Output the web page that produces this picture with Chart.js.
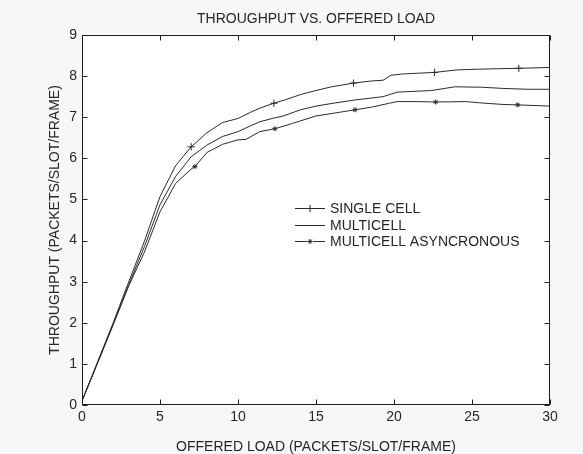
<!DOCTYPE html>
<html><head><meta charset="utf-8">
<script src="https://cdn.jsdelivr.net/npm/chart.js@4.4.1/dist/chart.umd.min.js"></script>
<style>html,body{margin:0;padding:0;background:#f7f7f7;}</style>
</head><body>
<canvas id="c" width="583" height="454"></canvas>
<script>
const chartTitle = 'THROUGHPUT VS. OFFERED LOAD';
const seriesNames = ['SINGLE CELL', 'MULTICELL', 'MULTICELL ASYNCRONOUS'];
const xTicks = [0, 5, 10, 15, 20, 25, 30];
const yTicks = [0, 1, 2, 3, 4, 5, 6, 7, 8, 9];

const singleX = [0, 1, 2, 3, 4, 5, 6, 7, 8, 9, 10, 10.8, 11.4, 12.3, 13, 14, 15, 16, 17.4, 18.5, 19.3, 19.8, 20.5, 21.5, 22.6, 24, 25.5, 28, 30];
const singleY = [0.1, 1.05, 2.0, 3.0, 3.98, 5.07, 5.82, 6.28, 6.62, 6.87, 6.97, 7.12, 7.22, 7.34, 7.42, 7.55, 7.65, 7.74, 7.83, 7.88, 7.9, 8.02, 8.05, 8.07, 8.09, 8.15, 8.17, 8.19, 8.21];
const singleMarkX = [7, 12.3, 17.4, 22.6, 28];

const multiX = [0, 1, 2, 3, 4, 5, 6, 7, 8, 9, 10, 10.8, 11.4, 12.3, 12.9, 14, 15, 16.1, 17.5, 19.3, 20.2, 22.4, 23.9, 25.6, 27, 28.6, 30];
const multiY = [0.1, 1.03, 1.97, 2.93, 3.85, 4.87, 5.56, 6.04, 6.32, 6.53, 6.65, 6.79, 6.89, 6.98, 7.03, 7.18, 7.27, 7.34, 7.42, 7.5, 7.61, 7.65, 7.74, 7.73, 7.7, 7.68, 7.68];

const asyncX = [0, 1, 2, 3, 4, 5, 6, 7, 7.24, 8, 9, 10, 10.5, 11.4, 12.37, 13.5, 15, 16.5, 17.5, 18.5, 19.7, 20.2, 21.5, 22.67, 24.6, 25.5, 27, 27.93, 30];
const asyncY = [0.1, 1.02, 1.95, 2.9, 3.72, 4.7, 5.39, 5.74, 5.8, 6.14, 6.34, 6.45, 6.46, 6.65, 6.72, 6.85, 7.03, 7.12, 7.18, 7.24, 7.34, 7.38, 7.38, 7.37, 7.38, 7.35, 7.31, 7.3, 7.27];
const asyncMarkX = [7.24, 12.37, 17.5, 22.67, 27.93];

const FONT = "'Liberation Sans', Arial, sans-serif";
const TXT = '#262626';
const LINE = '#2b2b2b';

function pts(xs, ys) { return xs.map((x, i) => ({x: x, y: ys[i]})); }
function markRadius(marks, r) { return ctx => (ctx.raw && marks.includes(ctx.raw.x)) ? r : 0; }

const styles = [
  {pointStyle: 'cross', r: 3.6},
  {pointStyle: false, r: 0},
  {pointStyle: 'star', r: 2.5}
];

const frame = {
  id: 'frame',
  beforeDraw(chart) {
    const {ctx, chartArea: a} = chart;
    ctx.save();
    ctx.fillStyle = '#f7f7f7';
    ctx.fillRect(0, 0, chart.width, chart.height);
    ctx.fillStyle = '#ffffff';
    ctx.fillRect(a.left, a.top, a.right - a.left, a.bottom - a.top);
    ctx.restore();
  },
  afterDraw(chart) {
    const {ctx, chartArea: a, scales} = chart;
    ctx.save();
    // title centred over the plot area
    ctx.font = '14px ' + FONT;
    ctx.fillStyle = TXT;
    ctx.textAlign = 'center';
    ctx.textBaseline = 'middle';
    ctx.fillText(chartTitle, (a.left + a.right) / 2, 19.5);

    ctx.strokeStyle = '#1e1e1e';
    ctx.lineWidth = 1;
    const L = Math.round(a.left) + 0.5, R = Math.round(a.right) - 0.5;
    const T = Math.round(a.top) + 0.5, B = Math.round(a.bottom) - 0.5;
    ctx.strokeRect(L, T, R - L, B - T);
    ctx.beginPath();
    scales.x.ticks.forEach(t => {
      const px = Math.round(scales.x.getPixelForValue(t.value)) + 0.5;
      ctx.moveTo(px, B); ctx.lineTo(px, B - 5);
      ctx.moveTo(px, T); ctx.lineTo(px, T + 5);
    });
    scales.y.ticks.forEach(t => {
      const py = Math.round(scales.y.getPixelForValue(t.value)) + 0.5;
      ctx.moveTo(L, py); ctx.lineTo(L + 5, py);
      ctx.moveTo(R, py); ctx.lineTo(R - 5, py);
    });
    ctx.stroke();

    // legend
    const lx = 295, ly = 208, gap = 16.5, len = 30;
    ctx.font = '14px ' + FONT;
    ctx.textAlign = 'left';
    ctx.textBaseline = 'middle';
    chart.data.datasets.forEach((ds, i) => {
      const y = Math.round(ly + i * gap) + 0.5;
      ctx.strokeStyle = LINE;
      ctx.lineWidth = 1;
      ctx.beginPath(); ctx.moveTo(lx, y); ctx.lineTo(lx + len, y); ctx.stroke();
      const st = styles[i];
      if (st.pointStyle) {
        ctx.fillStyle = '#ffffff';
        ctx.fillRect(lx + len / 2 - 3, y - 1.5, 6, 3);
        ctx.fillStyle = LINE;
        Chart.helpers.drawPoint(ctx, {pointStyle: st.pointStyle, radius: st.r, rotation: 0, borderWidth: 1}, lx + len / 2, y);
      }
      ctx.fillStyle = TXT;
      ctx.fillText(ds.label, lx + len + 5, y + 0.5);
    });
    ctx.restore();
  }
};

const datasets = [pts(singleX, singleY), pts(multiX, multiY), pts(asyncX, asyncY)].map((d, i) => ({
  label: seriesNames[i],
  data: d,
  borderColor: LINE,
  backgroundColor: LINE,
  borderWidth: 1,
  tension: 0,
  pointStyle: styles[i].pointStyle || 'circle',
  pointRadius: i === 0 ? markRadius(singleMarkX, styles[0].r) : (i === 2 ? markRadius(asyncMarkX, styles[2].r) : 0),
  pointBorderWidth: 1,
  pointBackgroundColor: '#ffffff',
  pointHoverRadius: 0
}));

new Chart(document.getElementById('c'), {
  type: 'line',
  data: {datasets: datasets},
  plugins: [frame],
  options: {
    responsive: false,
    animation: false,
    events: [],
    layout: {padding: {left: 0, right: 33, top: 35, bottom: 0}},
    plugins: {
      legend: {display: false},
      tooltip: {enabled: false},
      title: {display: false}
    },
    scales: {
      x: {
        type: 'linear', min: 0, max: 30,
        afterBuildTicks: s => { s.ticks = xTicks.map(v => ({value: v})); },
        afterFit: s => { s.height = 49; s.paddingLeft = 0; s.paddingRight = 0; },
        grid: {display: false, drawTicks: false},
        border: {display: false},
        ticks: {color: TXT, font: {family: FONT, size: 14}, padding: 4, maxRotation: 0},
        title: {display: true, text: 'OFFERED LOAD (PACKETS/SLOT/FRAME)', color: TXT,
                font: {family: FONT, size: 14, lineHeight: 1}, padding: {top: 0, bottom: 0}}
      },
      y: {
        type: 'linear', min: 0, max: 9,
        afterBuildTicks: s => { s.ticks = yTicks.map(v => ({value: v})); },
        afterFit: s => { s.width = 82; s.paddingTop = 0; s.paddingBottom = 0; },
        grid: {display: false, drawTicks: false},
        border: {display: false},
        ticks: {color: TXT, font: {family: FONT, size: 14}, padding: 5},
        title: {display: true, text: 'THROUGHPUT (PACKETS/SLOT/FRAME)', color: TXT,
                font: {family: FONT, size: 14, lineHeight: 1.2}, padding: {top: 46.6, bottom: 0}}
      }
    }
  }
});
</script>
</body></html>
